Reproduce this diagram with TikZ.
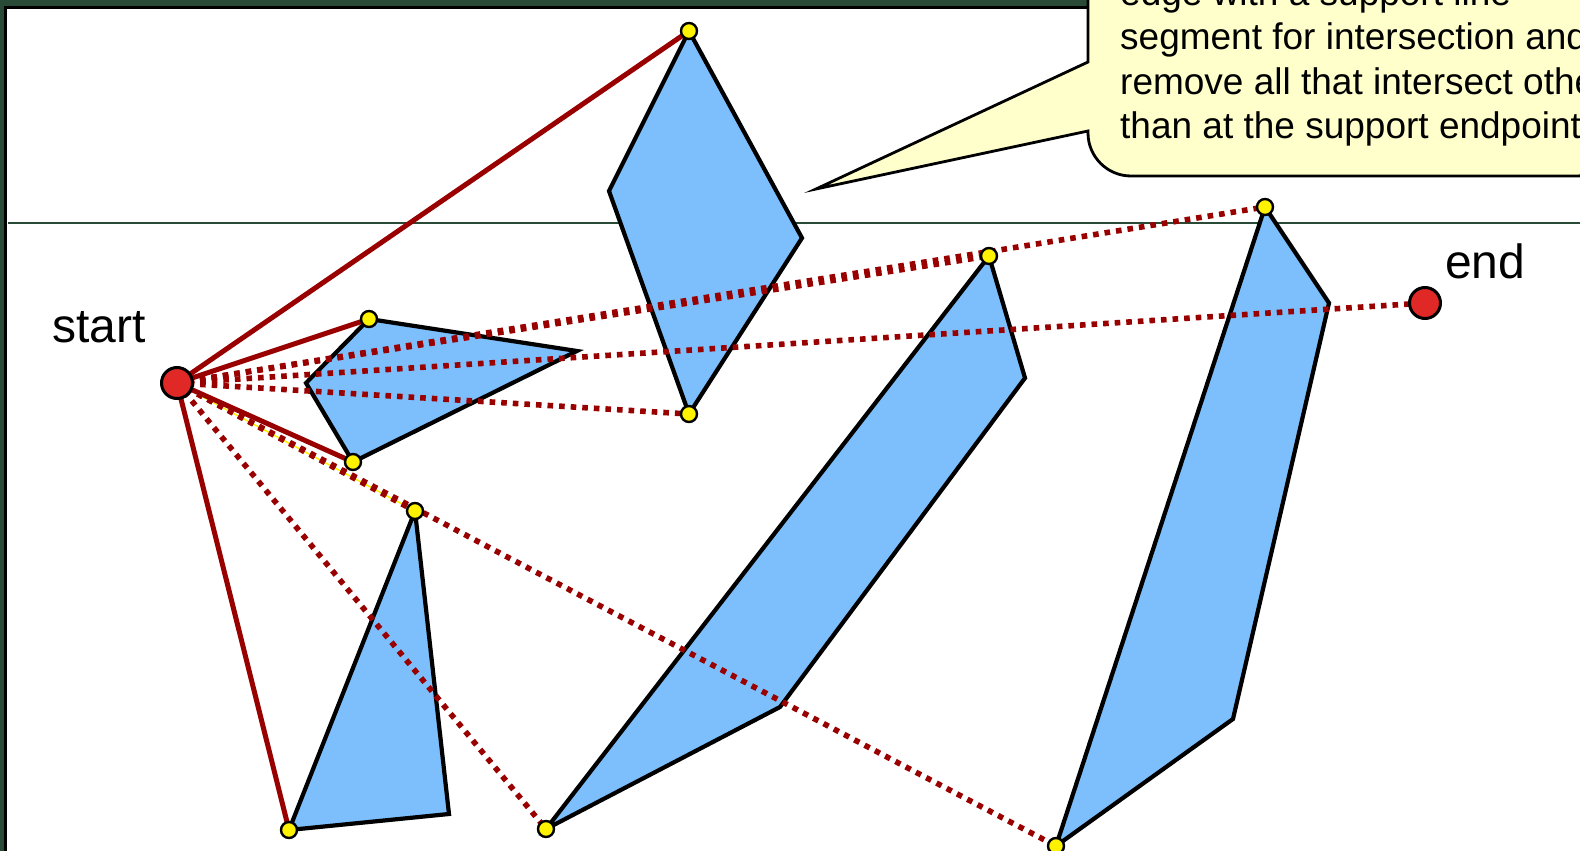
\documentclass[tikz,border=0pt]{standalone}
\usepackage{fontspec}
\setmainfont{Liberation Sans}
\definecolor{framegreen}{RGB}{42,74,56}
\definecolor{obstacleblue}{RGB}{125,191,252}
\definecolor{pathred}{RGB}{153,0,0}
\definecolor{termred}{RGB}{224,40,38}
\definecolor{noteyellow}{RGB}{255,255,204}
\begin{document}
\begin{tikzpicture}[
    x=1pt, y=-1pt,
    obstacle/.style={fill=obstacleblue, draw=black, line width=4.2pt, line join=miter},
    support/.style={draw=pathred, line width=5pt},
    candidate/.style={draw=pathred, line width=5.6pt, dash pattern=on 5.6pt off 6pt},
    vertex/.style={circle, draw=black, fill=yellow, line width=2.4pt, minimum size=16pt, inner sep=0pt},
    terminal/.style={circle, draw=black, fill=termred, line width=3pt, minimum size=31pt, inner sep=0pt},
    tag/.style={font=\fontsize{48}{57}\selectfont, inner sep=0pt, anchor=base west},
    callout/.style={fill=noteyellow, draw=black, line width=2.8pt}
]
    \useasboundingbox (0,0) rectangle (1580,851);

    % --- SLIDE FRAME ---
    \fill[framegreen] (0,0) rectangle (1580,851);
    \draw[black, line width=2.6pt, fill=white] (5.7,7.3) rectangle (1620,900);
    \draw[framegreen, line width=1.3pt] (8,223) -- (1580,223);

    % --- OBSTACLE CORNERS ---
    \coordinate (s) at (177,383);
    \coordinate (e) at (1425,303);
    \coordinate (dia-top) at (689,31);
    \coordinate (dia-left) at (609,191);
    \coordinate (dia-right) at (802,238);
    \coordinate (dia-bot) at (689,414);
    \coordinate (kite-top) at (369,319);
    \coordinate (kite-tip) at (577,351);
    \coordinate (kite-bot) at (353,462);
    \coordinate (kite-left) at (306,383);
    \coordinate (tri-top) at (415,511);
    \coordinate (tri-right) at (449,814);
    \coordinate (tri-bot) at (289,830);
    \coordinate (slab-top) at (989,256);
    \coordinate (slab-right) at (1025,378);
    \coordinate (slab-low) at (780,707);
    \coordinate (slab-bot) at (546,829);
    \coordinate (blade-top) at (1265,207);
    \coordinate (blade-right) at (1329,303);
    \coordinate (blade-low) at (1233,719);
    \coordinate (blade-bot) at (1056,846);

    % --- OBSTACLES ---
    \draw[obstacle] (dia-top) -- (dia-right) -- (dia-bot) -- (dia-left) -- cycle;
    \draw[obstacle] (kite-top) -- (kite-tip) -- (kite-bot) -- (kite-left) -- cycle;
    \draw[obstacle] (tri-top) -- (tri-right) -- (tri-bot) -- cycle;
    \draw[obstacle] (slab-top) -- (slab-right) -- (slab-low) -- (slab-bot) -- cycle;
    \draw[obstacle] (blade-top) -- (blade-right) -- (blade-low) -- (blade-bot) -- cycle;

    % --- SUPPORT LINES (kept) ---
    \draw[yellow, line width=1.5pt] (s) -- (tri-top);
    \draw[support] (s) -- (dia-top);
    \draw[support] (s) -- (kite-top);
    \draw[support] (s) -- (kite-bot);
    \draw[support] (s) -- (tri-bot);

    % --- CANDIDATE EDGES (dotted) ---
    \draw[candidate] (s) -- (dia-bot);
    \draw[candidate] (s) -- (slab-top);
    \draw[candidate] (s) -- (blade-top);
    \draw[candidate] (s) -- (e);
    \draw[candidate] (s) -- (tri-top);
    \draw[candidate] (s) -- (blade-bot);
    \draw[candidate] (s) -- (slab-bot);

    % --- VERTICES ---
    \node[vertex] (dot-dia-top) at (dia-top) {};
    \node[vertex] (dot-dia-bot) at (dia-bot) {};
    \node[vertex] (dot-kite-top) at (kite-top) {};
    \node[vertex] (dot-kite-bot) at (kite-bot) {};
    \node[vertex] (dot-tri-top) at (tri-top) {};
    \node[vertex] (dot-tri-bot) at (tri-bot) {};
    \node[vertex] (dot-slab-top) at (slab-top) {};
    \node[vertex] (dot-slab-bot) at (slab-bot) {};
    \node[vertex] (dot-blade-top) at (blade-top) {};
    \node[vertex] (dot-blade-bot) at (blade-bot) {};

    % --- START / END ---
    \node[terminal] (start) at (s) {};
    \node[terminal] (end) at (e) {};
    \node[tag] (start-text) at (52,342) {start};
    \node[tag] (end-text) at (1445,278) {end};

    % The callout bubble (runs off the top and right edge)
    \draw[callout] (816,189) -- (1088,131) [rounded corners=43pt] -- (1088,176) -- (1620,176) [sharp corners] -- (1620,-40) -- (1088,-40) -- (1088,62) -- cycle;
    \node[anchor=base west, align=left, inner sep=0pt, font=\fontsize{37}{44.2}\selectfont] (note) at (1120,138.3)
        {edge with a support line\\segment for intersection and\\remove all that intersect other\\than at the support endpoints};
\end{tikzpicture}
\end{document}
